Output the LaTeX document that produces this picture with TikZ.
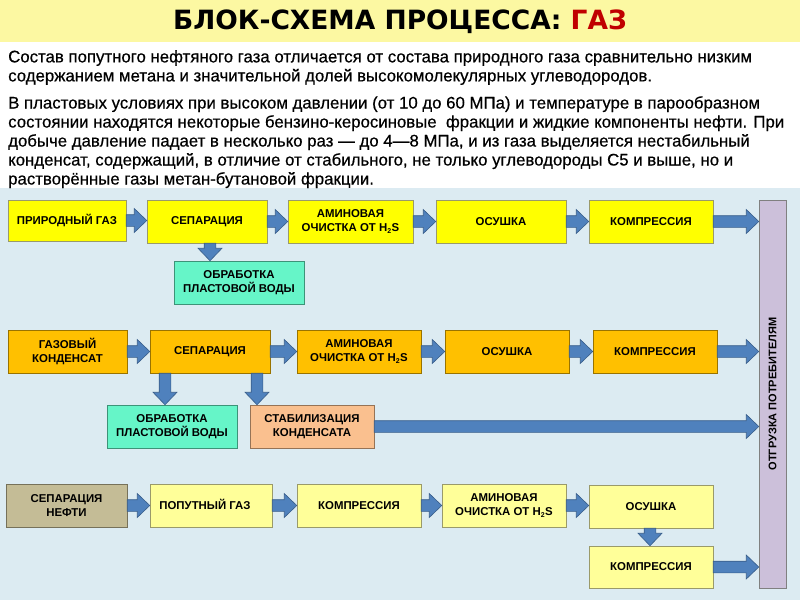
\documentclass[tikz,border=0pt]{standalone}
\usepackage{fontspec}
\setmainfont{Liberation Sans}
\newfontfamily\titlefont{DejaVu Sans}
\newfontfamily\leadfont[FakeBold=0.5]{Liberation Sans}
\usetikzlibrary{calc}
\newcommand{\htwos}{H\textsubscript{\scriptsize 2}S}
\definecolor{band}{HTML}{FCF8A2}
\definecolor{sheet}{HTML}{DCEBF2}
\definecolor{gazred}{HTML}{C00000}
\definecolor{arrowfill}{HTML}{4F81BD}
\definecolor{arrowedge}{HTML}{385D8A}
\definecolor{yelfill}{HTML}{FFFF00}
\definecolor{orfill}{HTML}{FFC000}
\definecolor{wetfill}{HTML}{66F5C8}
\definecolor{stabfill}{HTML}{FAC08F}
\definecolor{palefill}{HTML}{FFFF99}
\definecolor{oilfill}{HTML}{C4BC96}
\definecolor{barfill}{HTML}{CCC0DA}
\definecolor{boxedge}{HTML}{9A9A6A}

\begin{document}
\begin{tikzpicture}[x=1pt,y=-1pt,
 blok/.style={rectangle, draw=boxedge, line width=0.5pt, align=center,
   inner sep=1pt, minimum width=124pt, minimum height=43pt,
   font={\bfseries\fontsize{11.4}{14}\selectfont}},
 yelbox/.style={blok, fill=yelfill},
 orbox/.style={blok, fill=orfill, draw=orfill!60!black},
 wetbox/.style={blok, fill=wetfill, draw=wetfill!60!black},
 stabbox/.style={blok, fill=stabfill, draw=stabfill!60!black},
 palebox/.style={blok, fill=palefill},
 oilbox/.style={blok, fill=oilfill, draw=oilfill!60!black},
 flow/.style={draw=arrowedge, fill=arrowfill, line width=0.6pt,
   to path={let \p1=(\tikztostart), \p2=(\tikztotarget),
     \n1={atan2(\y2-\y1,\x2-\x1)}, \n2={veclen(\x2-\x1,\y2-\y1)} in
     ($(\p1)+({\n1+90}:5.8pt)$)
     -- ($(\p1)+({\n1}:{(\n2-12.5)*1pt})+({\n1+90}:5.8pt)$)
     -- ($(\p1)+({\n1}:{(\n2-12.5)*1pt})+({\n1+90}:12pt)$)
     -- (\p2)
     -- ($(\p1)+({\n1}:{(\n2-12.5)*1pt})+({\n1-90}:12pt)$)
     -- ($(\p1)+({\n1}:{(\n2-12.5)*1pt})+({\n1-90}:5.8pt)$)
     -- ($(\p1)+({\n1-90}:5.8pt)$) -- cycle}}]
\useasboundingbox (0,0) rectangle (800,600);
% background
\fill[sheet] (0,188) rectangle (800,600);
\fill[white] (0,42) rectangle (800,188);
\fill[band] (0,0) rectangle (800,42);
\node[font={\titlefont\bfseries\fontsize{26.5}{30}\selectfont}] (title) at (400,21.5)
  {БЛОК-СХЕМА ПРОЦЕССА: \textcolor{gazred}{ГАЗ}};
\node[anchor=north west, inner sep=0pt, align=left,
  font={\leadfont\fontsize{16.8}{19}\selectfont}] (intro) at (8,50)
  {Состав попутного нефтяного газа отличается от состава природного газа сравнительно низким\\
   содержанием метана и значительной долей высокомолекулярных углеводородов.};
\node[anchor=north west, inner sep=0pt, align=left,
  font={\leadfont\fontsize{16.8}{19}\selectfont}] (detail) at (8,96)
  {В пластовых условиях при высоком давлении (от 10 до 60 МПа) и температуре в парообразном\\
   состоянии находятся некоторые бензино-керосиновые\ \ фракции и жидкие компоненты нефти. При\\
   добыче давление падает в несколько раз — до 4—8 МПа, и из газа выделяется нестабильный\\
   конденсат, содержащий, в отличие от стабильного, не только углеводороды С5 и выше, но и\\
   растворённые газы метан-бутановой фракции.};

% natural gas
\node[yelbox, minimum width=118pt, minimum height=41pt] (prir1) at (67,220.5)
  {\raisebox{3pt}{ПРИРОДНЫЙ ГАЗ}};
\node[yelbox, minimum width=120pt] (sep1) at (207,221.5) {СЕПАРАЦИЯ};
\node[yelbox, minimum width=125pt] (amin1) at (350.5,221.5) {АМИНОВАЯ\\ОЧИСТКА ОТ \htwos};
\node[yelbox, minimum width=130pt] (osu1) at (501,221.5) {ОСУШКА};
\node[yelbox] (komp1) at (651,221.5) {КОМПРЕССИЯ};
\node[wetbox, minimum width=130pt] (wat1) at (239,282.5) {ОБРАБОТКА\\ПЛАСТОВОЙ ВОДЫ};
% gas condensate
\node[orbox, minimum width=119pt] (gk2) at (67.5,351.5) {ГАЗОВЫЙ\\КОНДЕНСАТ};
\node[orbox, minimum width=120pt] (sep2) at (210,351.5) {СЕПАРАЦИЯ};
\node[orbox] (amin2) at (359,351.5) {АМИНОВАЯ\\ОЧИСТКА ОТ \htwos};
\node[orbox] (osu2) at (507,351.5) {ОСУШКА};
\node[orbox] (komp2) at (655,351.5) {КОМПРЕССИЯ};
\node[wetbox, minimum width=130pt] (wat2) at (172,426.5) {ОБРАБОТКА\\ПЛАСТОВОЙ ВОДЫ};
\node[stabbox] (stab2) at (312,426.5) {СТАБИЛИЗАЦИЯ\\КОНДЕНСАТА};
% associated gas
\node[oilbox, minimum width=121pt] (sepn3) at (66.5,505.5) {СЕПАРАЦИЯ\\НЕФТИ};
\node[palebox, minimum width=122pt] (pop3) at (211,505.5)
  {\raisebox{3pt}{ПОПУТНЫЙ ГАЗ}\hspace{12pt}};
\node[palebox] (komp3) at (359,505.5) {КОМПРЕССИЯ};
\node[palebox] (amin3) at (504,505.5) {АМИНОВАЯ\\ОЧИСТКА ОТ \htwos};
\node[palebox] (osu3) at (651,506.5) {ОСУШКА};
\node[palebox, minimum height=42pt] (komp4) at (651,567) {КОМПРЕССИЯ};
\node[blok, fill=barfill, draw=gray, rotate=90, minimum width=388pt, minimum height=27pt,
  font={\bfseries\fontsize{11}{12}\selectfont}] (bar) at (772.5,394) {ОТГРУЗКА ПОТРЕБИТЕЛЯМ};

\draw[flow] (prir1.east) to (prir1.east -| sep1.west);
\draw[flow] (sep1.east) to (sep1.east -| amin1.west);
\draw[flow] (amin1.east) to (amin1.east -| osu1.west);
\draw[flow] (osu1.east) to (osu1.east -| komp1.west);
\draw[flow] (komp1.east) to (komp1.east -| bar.north);
\draw[flow] ([xshift=3pt]sep1.south) to ([xshift=3pt]sep1.south |- wat1.north);
\draw[flow] (gk2.east) to (gk2.east -| sep2.west);
\draw[flow] (sep2.east) to (sep2.east -| amin2.west);
\draw[flow] (amin2.east) to (amin2.east -| osu2.west);
\draw[flow] (osu2.east) to (osu2.east -| komp2.west);
\draw[flow] (komp2.east) to (komp2.east -| bar.north);
\draw[flow] ([xshift=-45pt]sep2.south) to ([xshift=-45pt]sep2.south |- wat2.north);
\draw[flow] ([xshift=47pt]sep2.south) to ([xshift=47pt]sep2.south |- stab2.north);
\draw[flow] (stab2.east) to (stab2.east -| bar.north);
\draw[flow] (sepn3.east) to (sepn3.east -| pop3.west);
\draw[flow] (pop3.east) to (pop3.east -| komp3.west);
\draw[flow] (komp3.east) to (komp3.east -| amin3.west);
\draw[flow] (amin3.east) to (amin3.east -| osu3.west);
\draw[flow] ([xshift=-1pt]osu3.south) to ([xshift=-1pt]osu3.south |- komp4.north);
\draw[flow] (komp4.east) to (komp4.east -| bar.north);
\end{tikzpicture}
\end{document}
